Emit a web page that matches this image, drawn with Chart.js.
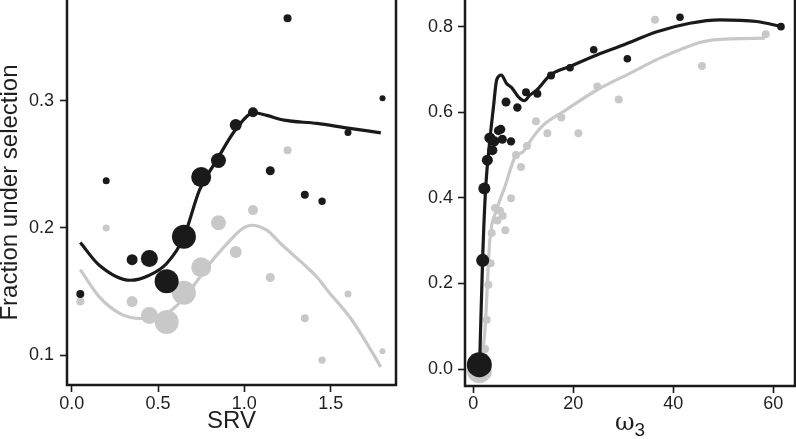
<!DOCTYPE html>
<html><head><meta charset="utf-8">
<script src="https://cdn.jsdelivr.net/npm/chart.js@4.4.1/dist/chart.umd.min.js"></script>
<style>
html,body{margin:0;padding:0;background:#fff;}
#wrap{position:relative;width:796px;height:439px;overflow:hidden;background:#fff;}
#c1{position:absolute;left:0;top:0;width:400px;height:439px;}
#c2{position:absolute;left:400px;top:0;width:396px;height:439px;}
</style></head><body>
<div id="wrap"><canvas id="c1" width="400" height="439"></canvas><canvas id="c2" width="396" height="439"></canvas></div>
<script>
// ---------- Left panel: SRV ----------
const srvX      = [0.05, 0.20, 0.35, 0.45, 0.55, 0.65, 0.75, 0.85, 0.95, 1.05, 1.15, 1.25, 1.35, 1.45, 1.60, 1.80];
const srvBlack  = [0.148, 0.237, 0.175, 0.176, 0.158, 0.193, 0.240, 0.253, 0.281, 0.291, 0.245, 0.365, 0.226, 0.221, 0.275, 0.302];
const srvGray   = [0.142, 0.200, 0.142, 0.131, 0.126, 0.149, 0.169, 0.204, 0.181, 0.214, 0.161, 0.261, 0.129, 0.096, 0.148, 0.103];
const srvWeight = [4, 3.5, 5.5, 8.5, 12, 12, 10, 7.5, 6, 5, 4.5, 4, 4, 3.7, 3.5, 3];
const srvFitBlackX = [0.05, 0.16, 0.34, 0.45, 0.55, 0.65, 0.74, 0.84, 0.94, 1.03, 1.06, 1.13, 1.23, 1.42, 1.59, 1.79];
const srvFitBlackY = [0.1885, 0.1706, 0.1588, 0.1628, 0.172, 0.193, 0.2297, 0.2533, 0.2756, 0.2895, 0.2906, 0.2885, 0.2848, 0.2822, 0.2787, 0.2748];
const srvFitGrayX = [0.05, 0.16, 0.28, 0.40, 0.51, 0.61, 0.70, 0.80, 0.90, 0.99, 1.04, 1.13, 1.21, 1.36, 1.42, 1.48, 1.61, 1.71, 1.79];
const srvFitGrayY = [0.1672, 0.1457, 0.1326, 0.1287, 0.130, 0.1391, 0.1535, 0.172, 0.1877, 0.1995, 0.2021, 0.1982, 0.1877, 0.1693, 0.1614, 0.151, 0.1299, 0.109, 0.0906];
const srvTicksX = [0.0, 0.5, 1.0, 1.5];
const srvTicksY = [0.1, 0.2, 0.3];

// ---------- Right panel: omega_3 ----------
const omBlackX = [1.2, 1.87, 2.2, 2.8, 3.3, 3.8, 4.2, 5.0, 5.5, 5.8, 6.53, 7.53, 8.8, 10.53, 12.8, 15.53, 19.33, 24.07, 30.8, 41.33, 61.53];
const omBlackY = [0.010, 0.254, 0.422, 0.488, 0.540, 0.511, 0.532, 0.557, 0.560, 0.537, 0.624, 0.532, 0.611, 0.647, 0.643, 0.686, 0.704, 0.746, 0.725, 0.822, 0.800];
const omBlackWeight = [12.5, 6.5, 6, 5.5, 5.5, 5, 5, 4.5, 4.5, 4.5, 4.5, 4.2, 4.2, 4, 4, 4, 3.8, 3.8, 3.8, 3.8, 3.8];
const omGrayX = [1.2, 2.34, 2.67, 3.0, 3.47, 3.67, 4.33, 4.8, 5.33, 5.87, 6.4, 7.53, 8.53, 9.53, 10.73, 12.53, 14.8, 17.6, 21.0, 24.8, 29.07, 36.33, 45.73, 58.47];
const omGrayY = [-0.004, 0.047, 0.115, 0.197, 0.247, 0.318, 0.376, 0.347, 0.370, 0.358, 0.324, 0.399, 0.500, 0.472, 0.521, 0.579, 0.551, 0.588, 0.551, 0.660, 0.630, 0.816, 0.708, 0.782];
const omGrayWeight = [12.5, 4, 4, 4, 4, 4, 4, 4, 4, 4, 4, 4, 4, 4, 4, 4, 4, 4, 4, 4, 4, 4, 4, 4];
const omFitBlackX = [1.25, 1.85, 2.45, 3.3, 4.0, 4.67, 5.6, 6.6, 7.7, 9.0, 10.2, 11.3, 12.7, 15.3, 19.3, 24.7, 30.0, 36.7, 43.3, 49.3, 56.7, 61.6];
const omFitBlackY = [0.010, 0.255, 0.420, 0.535, 0.610, 0.676, 0.687, 0.668, 0.657, 0.636, 0.627, 0.640, 0.652, 0.686, 0.707, 0.734, 0.757, 0.788, 0.808, 0.816, 0.812, 0.800];
const omFitGrayX = [1.3, 2.33, 3.3, 4.67, 6.33, 8.33, 10.0, 10.67, 12.0, 14.0, 18.0, 24.7, 31.3, 38.0, 48.0, 58.3];
const omFitGrayY = [-0.004, 0.092, 0.302, 0.372, 0.4265, 0.495, 0.508, 0.52, 0.543, 0.570, 0.6015, 0.652, 0.691, 0.730, 0.769, 0.773];
const omTicksX = [0, 20, 40, 60];
const omTicksY = [0.0, 0.2, 0.4, 0.6, 0.8];

const BLACK = '#1a1a1a';
const GRAY = '#c8c8c8';
const TEXT = '#1f1f1f';
const FONT = "'Liberation Sans', Arial, Helvetica, sans-serif";

function pts(xs, ys) { return xs.map((x, i) => ({ x: x, y: ys[i] })); }

const framePlugin = {
  id: 'frame',
  afterDatasetsDraw(chart) {
    const { ctx, chartArea: a } = chart;
    ctx.save();
    ctx.strokeStyle = BLACK;
    ctx.lineWidth = 2.5;
    ctx.lineCap = 'square';
    ctx.beginPath();
    ctx.moveTo(a.left, a.top - 5);
    ctx.lineTo(a.left, a.bottom);
    ctx.lineTo(a.right, a.bottom);
    ctx.lineTo(a.right, a.top - 5);
    ctx.stroke();
    ctx.restore();
  }
};

function makeScale(min, max, ticks, fmt, fitSize, pad, title) {
  const s = {
    type: 'linear', min: min, max: max,
    border: { display: false },
    grid: { display: true, drawOnChartArea: false, drawTicks: true, tickLength: 7, tickColor: BLACK, tickWidth: 1.6 },
    ticks: { color: TEXT, font: { family: FONT, size: 18 }, padding: pad, callback: v => fmt(v), maxRotation: 0, autoSkip: false },
    afterBuildTicks: sc => { sc.ticks = ticks.map(v => ({ value: v })); },
    afterFit: sc => {
      if (sc.isHorizontal()) sc.height = fitSize; else sc.width = fitSize;
      sc.paddingTop = 0; sc.paddingBottom = 0; sc.paddingLeft = 0; sc.paddingRight = 0;
    }
  };
  if (title) s.title = title;
  return s;
}

function lineDS(xs, ys, color, order) {
  return { data: pts(xs, ys), showLine: true, borderColor: color, borderWidth: 3.2, pointRadius: 0,
           cubicInterpolationMode: 'monotone', fill: false, order: order, borderCapStyle: 'butt', borderJoinStyle: 'round' };
}
function pointDS(xs, ys, w, color, order) {
  return { data: pts(xs, ys), showLine: false, backgroundColor: color, borderWidth: 0,
           pointRadius: ctx => w[ctx.dataIndex], order: order };
}

const common = {
  responsive: false, animation: false, devicePixelRatio: 1,
  plugins: { legend: { display: false }, tooltip: { enabled: false } },
  events: []
};

new Chart(document.getElementById('c1'), {
  type: 'scatter',
  data: { datasets: [
    pointDS(srvX, srvBlack, srvWeight, BLACK, 0),
    lineDS(srvFitBlackX, srvFitBlackY, BLACK, 1),
    pointDS(srvX, srvGray, srvWeight, GRAY, 2),
    lineDS(srvFitGrayX, srvFitGrayY, GRAY, 3)
  ]},
  options: Object.assign({}, common, {
    layout: { autoPadding: false, padding: { top: 0, right: 4, bottom: 0, left: 0 } },
    scales: {
      x: makeScale(-0.027, 1.878, srvTicksX, v => v.toFixed(1), 54, 1,
        { display: true, text: 'SRV', color: TEXT, font: { family: FONT, size: 24 }, padding: { top: 0, bottom: 3 } }),
      y: makeScale(0.0764, 0.3793, srvTicksY, v => v.toFixed(1), 67, 6,
        { display: true, text: 'Fraction under selection', color: TEXT, font: { family: FONT, size: 24 }, padding: { top: -4, bottom: 0 } })
    }
  }),
  plugins: [framePlugin]
});

const omegaTitlePlugin = {
  id: 'omegaTitle',
  afterDraw(chart) {
    const { ctx, chartArea: a } = chart;
    const cx = (a.left + a.right) / 2;
    ctx.save();
    ctx.fillStyle = TEXT;
    ctx.textBaseline = 'alphabetic';
    ctx.textAlign = 'left';
    ctx.font = "24px 'DejaVu Serif', serif";
    const w1 = ctx.measureText('ω').width;
    ctx.font = "19px " + FONT;
    const w2 = ctx.measureText('3').width;
    const x0 = cx - (w1 + w2) / 2;
    ctx.font = "24px 'DejaVu Serif', serif";
    ctx.fillText('ω', x0, 430);
    ctx.font = "19px " + FONT;
    ctx.fillText('3', x0 + w1, 436);
    ctx.restore();
  }
};

new Chart(document.getElementById('c2'), {
  type: 'scatter',
  data: { datasets: [
    pointDS(omBlackX, omBlackY, omBlackWeight, BLACK, 0),
    lineDS(omFitBlackX, omFitBlackY, BLACK, 1),
    pointDS(omGrayX, omGrayY, omGrayWeight, GRAY, 2),
    lineDS(omFitGrayX, omFitGrayY, GRAY, 3)
  ]},
  options: Object.assign({}, common, {
    layout: { autoPadding: false, padding: { top: 0, right: 1, bottom: 0, left: 0 } },
    scales: {
      x: makeScale(-1.67, 64.33, omTicksX, v => String(Math.round(v)), 53, 0, null),
      y: makeScale(-0.0397, 0.8623, omTicksY, v => v.toFixed(1), 65, 5, null)
    }
  }),
  plugins: [framePlugin, omegaTitlePlugin]
});
</script>
</body></html>
